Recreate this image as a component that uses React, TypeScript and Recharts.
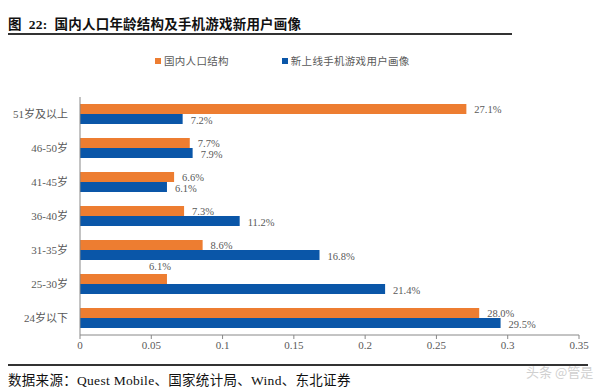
import { BarChart, Bar, XAxis, YAxis, Legend, LabelList } from "recharts";

const ageGroups = ["51岁及以上", "46-50岁", "41-45岁", "36-40岁", "31-35岁", "25-30岁", "24岁以下"];
const populationShare = [0.271, 0.077, 0.066, 0.073, 0.086, 0.061, 0.28];
const newGamerShare = [0.072, 0.079, 0.061, 0.112, 0.168, 0.214, 0.295];
const xTicks = [0, 0.05, 0.1, 0.15, 0.2, 0.25, 0.3, 0.35];

const ORANGE = "#ED7D31";
const BLUE = "#0A56A8";
const SERIF = '"Liberation Serif", "Times New Roman", "Noto Sans CJK SC", serif';

const data = ageGroups.map((name, i) => ({
  name,
  pop: populationShare[i],
  gamer: newGamerShare[i],
}));

const pct = (v: number) => `${(v * 100).toFixed(1)}%`;

// label to the right of a bar; the short 25-30 orange bar has its label sitting above it
const makeLabel = (series: string) => (props: any) => {
  const { x, y, width, height, value, index } = props;
  const above = series === "pop" && index === 5;
  const tx = above ? x + width - 7 : x + width + 8;
  const shift = series === "pop" ? 3.5 : 5;
  const ty = above ? y - 4 : y + height / 2 + shift;
  return (
    <text
      x={tx}
      y={ty}
      textAnchor={above ? "middle" : "start"}
      fontSize={10.5}
      fontFamily={SERIF}
      fill="#595959"
    >
      {pct(value)}
    </text>
  );
};

const LegendContent = () => (
  <div style={{ display: "flex", fontSize: 10.5, color: "#595959", fontFamily: SERIF, letterSpacing: 0.3 }}>
    <span style={{ display: "flex", alignItems: "center", marginLeft: 155 }}>
      <span style={{ width: 6, height: 6, background: ORANGE, marginRight: 3 }} />
      国内人口结构
    </span>
    <span style={{ display: "flex", alignItems: "center", marginLeft: 53 }}>
      <span style={{ width: 6, height: 6, background: BLUE, marginRight: 3 }} />
      新上线手机游戏用户画像
    </span>
  </div>
);

export default function App() {
  return (
    <div style={{ position: "absolute", left: 0, top: 0, width: 600, height: 391, background: "#fff" }}>
      <div
        style={{
          position: "absolute",
          left: 8,
          top: 13,
          fontSize: 13.5,
          fontWeight: "bold",
          fontFamily: SERIF,
          color: "#111",
          letterSpacing: 0.2,
        }}
      >
        图&nbsp;&nbsp;22:&nbsp;&nbsp;国内人口年龄结构及手机游戏新用户画像
      </div>
      <div style={{ position: "absolute", left: 8, top: 33, width: 504, height: 2, background: "#333" }} />

      <BarChart
        width={600}
        height={391}
        data={data}
        layout="vertical"
        margin={{ top: 82, right: 21, bottom: 26, left: 0 }}
        barSize={10}
        barGap={0}
      >
        <Legend verticalAlign="top" wrapperStyle={{ top: 53, left: 0 }} content={<LegendContent />} />
        <XAxis
          type="number"
          domain={[0, 0.35]}
          ticks={xTicks}
          tickFormatter={(v: number) => String(v)}
          stroke="#888"
          tickLine={{ stroke: "#888" }}
          tickSize={4}
          tick={{ fontSize: 11, fill: "#595959", fontFamily: SERIF }}
        />
        <YAxis
          type="category"
          dataKey="name"
          width={80}
          stroke="#888"
          tickLine={false}
          tickMargin={6}
          tick={{ fontSize: 11, fill: "#595959", fontFamily: SERIF }}
        />
        <Bar dataKey="pop" fill={ORANGE} isAnimationActive={false}>
          <LabelList dataKey="pop" content={makeLabel("pop")} />
        </Bar>
        <Bar dataKey="gamer" fill={BLUE} isAnimationActive={false}>
          <LabelList dataKey="gamer" content={makeLabel("gamer")} />
        </Bar>
      </BarChart>

      <div style={{ position: "absolute", left: 8, top: 364, width: 580, height: 2, background: "#333" }} />
      <div
        style={{
          position: "absolute",
          left: 8,
          top: 369,
          fontSize: 13.5,
          fontFamily: SERIF,
          color: "#111",
          letterSpacing: 0.3,
        }}
      >
        数据来源：Quest Mobile、国家统计局、Wind、东北证券
      </div>
      <div
        style={{
          position: "absolute",
          left: 526,
          top: 362,
          fontSize: 13,
          fontFamily: '"Noto Sans CJK SC", sans-serif',
          color: "#d0d0d0",
        }}
      >
        头条 @管是
      </div>
    </div>
  );
}
